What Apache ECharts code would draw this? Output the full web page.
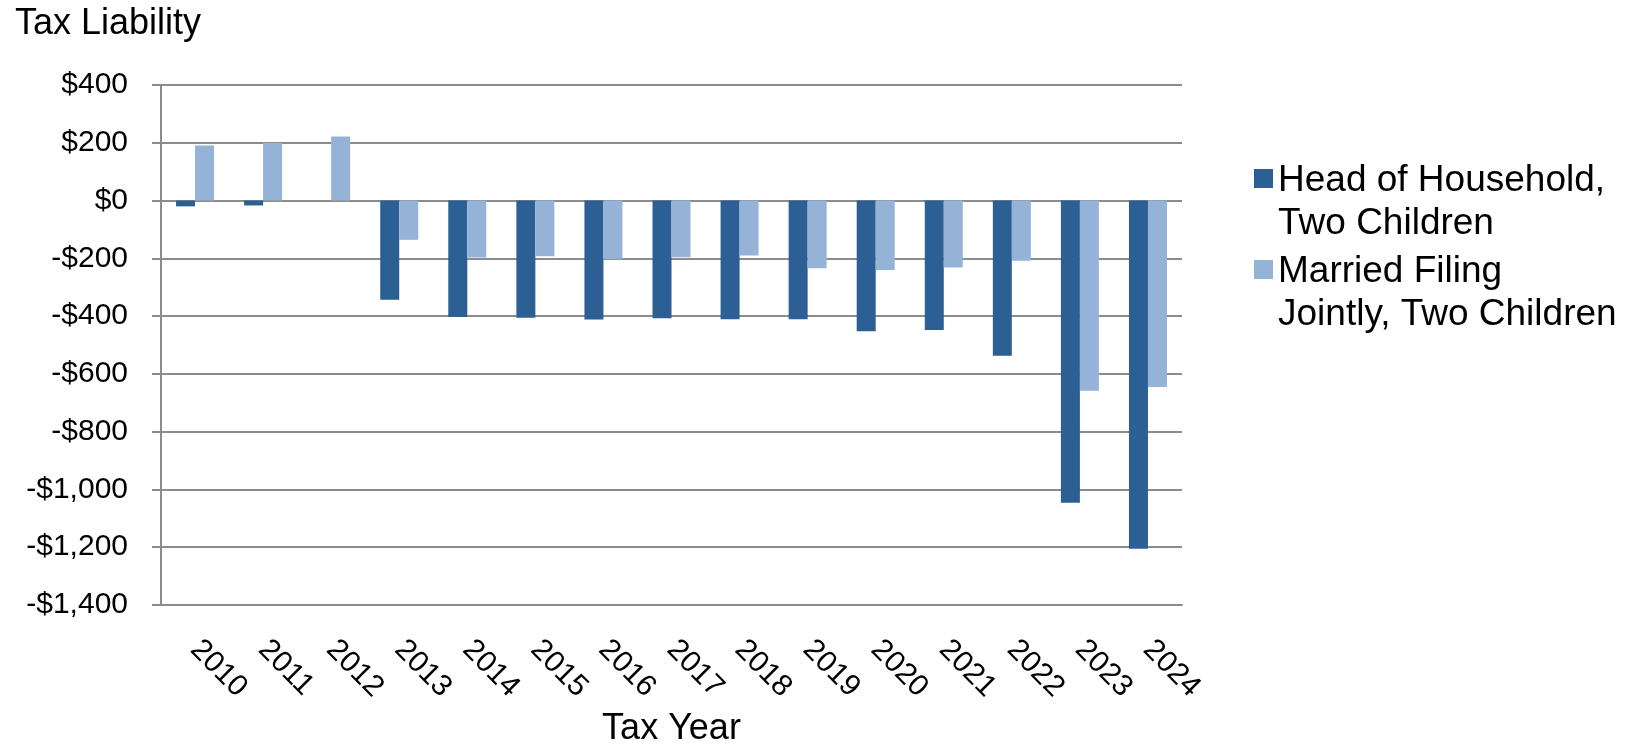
<!DOCTYPE html>
<html>
<head>
<meta charset="utf-8">
<title>Tax Liability by Tax Year</title>
<script src="https://cdn.jsdelivr.net/npm/echarts@6/dist/echarts.min.js"></script>
<style>
  html, body { margin: 0; padding: 0; background: #ffffff; }
  #chart { width: 1637px; height: 749px; }
</style>
</head>
<body>
<div id="chart"></div>
<script>
// Tax years on the category axis
const taxYears = ['2010', '2011', '2012', '2013', '2014', '2015', '2016', '2017',
                  '2018', '2019', '2020', '2021', '2022', '2023', '2024'];

// Tax liability in dollars for each filer type
const headOfHousehold = [-20, -17, 0, -343, -403, -406, -412, -407, -411, -411, -452, -448, -537, -1046, -1205];
const marriedJointly  = [191, 199, 222, -136, -197, -193, -203, -196, -190, -234, -240, -232, -208, -658, -645];

// Series names and their two-line legend text
const seriesNames = ['Head of Household, Two Children', 'Married Filing Jointly, Two Children'];
const legendText = {
  'Head of Household, Two Children': 'Head of Household,\nTwo Children',
  'Married Filing Jointly, Two Children': 'Married Filing\nJointly, Two Children'
};

// Value axis range
const yMin = -1400, yMax = 400, yStep = 200;

const FONT = '"Liberation Sans", Arial, Helvetica, sans-serif';
const GRID_GRAY = '#8c8c8c';

function money(v) {
  const s = Math.abs(v).toString().replace(/\B(?=(\d{3})+(?!\d))/g, ',');
  return (v < 0 ? '-$' : '$') + s;
}

const chart = echarts.init(document.getElementById('chart'), null, { renderer: 'canvas' });

chart.setOption({
  backgroundColor: '#ffffff',
  animation: false,
  title: {
    text: 'Tax Liability',
    left: 10,
    top: 1,
    textStyle: { fontFamily: FONT, fontSize: 36, fontWeight: 'normal', color: '#000' }
  },
  legend: {
    orient: 'vertical',
    left: 1249,
    top: 154,
    itemGap: 5,
    itemWidth: 19,
    itemHeight: 66,
    // square marker level with the first text line
    icon: 'path://M0,0h19v19h-19z M0,66',
    itemStyle: { borderWidth: 0 },
    formatter: name => legendText[name],
    textStyle: { fontFamily: FONT, fontSize: 37, lineHeight: 43, color: '#000' },
    data: seriesNames
  },
  grid: {
    left: 161,
    right: 455,
    top: 85,
    bottom: 144,
    containLabel: false,
    outerBoundsMode: 'none'
  },
  xAxis: {
    type: 'category',
    data: taxYears,
    name: 'Tax Year',
    nameLocation: 'middle',
    nameGap: 106,
    nameTextStyle: { fontFamily: FONT, fontSize: 36, color: '#000' },
    axisLine: { show: true, onZero: false, lineStyle: { color: GRID_GRAY, width: 2 } },
    axisTick: { show: false },
    axisLabel: {
      interval: 0,
      rotate: -45,
      margin: 40,
      fontFamily: FONT,
      fontSize: 30,
      color: '#000'
    }
  },
  yAxis: {
    type: 'value',
    min: yMin,
    max: yMax,
    interval: yStep,
    axisLine: { show: true, lineStyle: { color: GRID_GRAY, width: 2 } },
    axisTick: { show: true, inside: false, length: 9, lineStyle: { color: GRID_GRAY, width: 2 } },
    splitLine: { show: true, lineStyle: { color: GRID_GRAY, width: 2 } },
    axisLabel: {
      margin: 33,
      fontFamily: FONT,
      fontSize: 30,
      color: '#000',
      formatter: money
    }
  },
  series: [
    {
      name: seriesNames[0],
      type: 'bar',
      data: headOfHousehold,
      barWidth: 19,
      barGap: '0%',
      itemStyle: { color: '#2c5f93' }
    },
    {
      name: seriesNames[1],
      type: 'bar',
      data: marriedJointly,
      barWidth: 19,
      barGap: '0%',
      itemStyle: { color: '#95b3d7' }
    }
  ]
});
</script>
</body>
</html>
